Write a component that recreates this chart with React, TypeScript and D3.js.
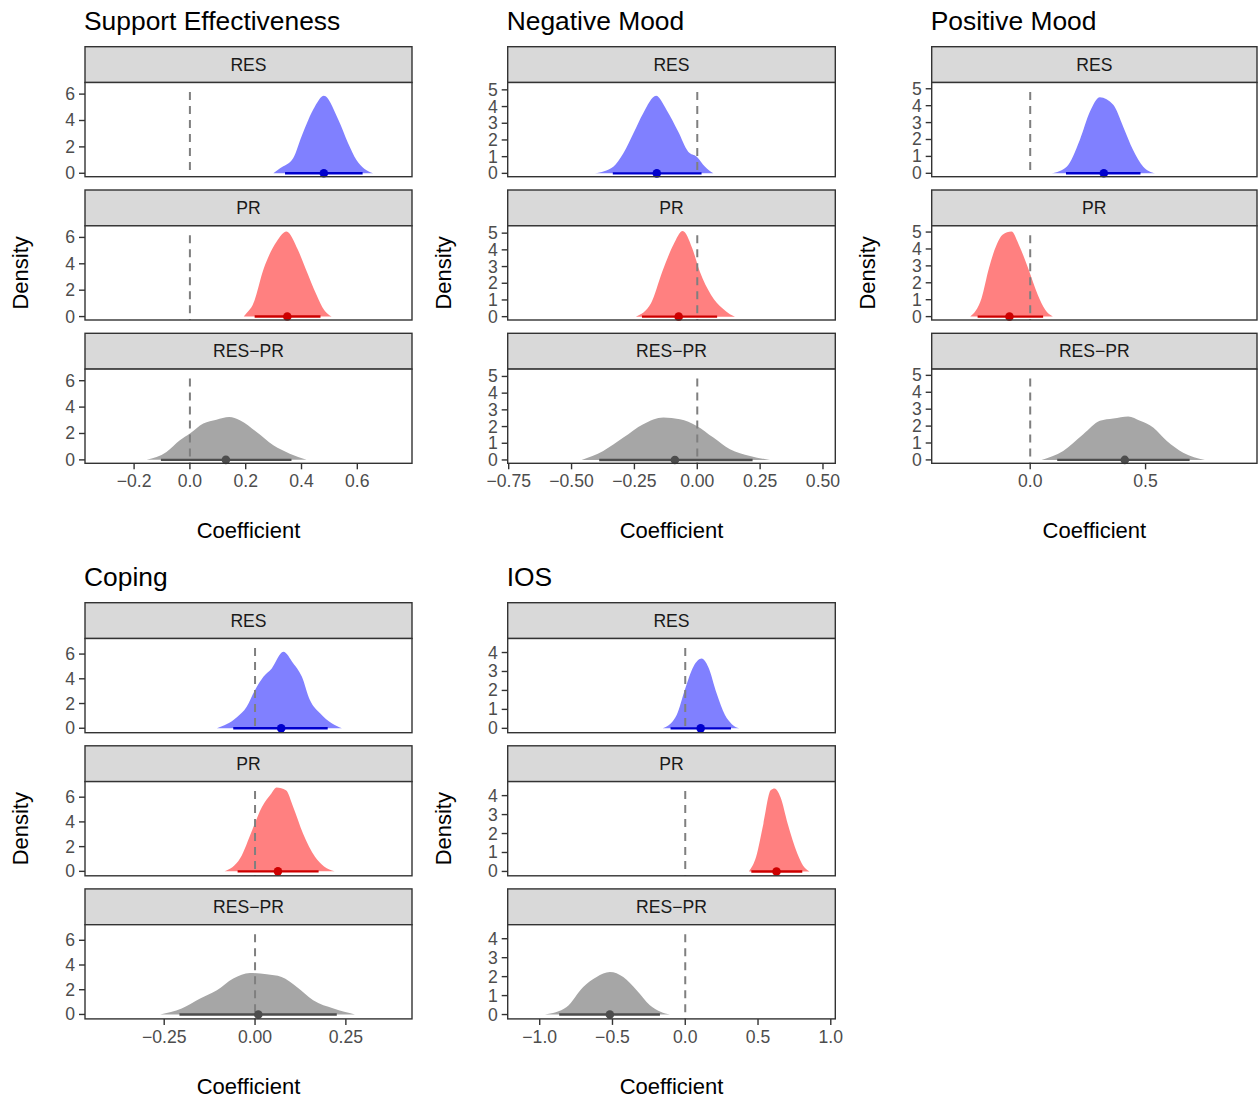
import React from "react";
import * as d3 from "d3";

// Posterior densities of the coefficient, as [coefficient, density] pairs
const seRES: [number, number][] = [[0.299,0],[0.323,0.38],[0.370,1.14],[0.400,2.78],[0.448,5.06],[0.480,5.87],[0.532,4.05],[0.567,2.28],[0.597,1.01],[0.625,0.35],[0.657,0]];
const sePR: [number, number][] = [[0.193,0],[0.205,0.3],[0.225,0.88],[0.265,3.67],[0.311,5.69],[0.346,6.45],[0.387,5.06],[0.414,3.67],[0.454,1.64],[0.481,0.5],[0.508,0]];
const seDiff: [number, number][] = [[-0.155,0],[-0.084,0.59],[-0.036,1.48],[0,1.99],[0.048,2.75],[0.095,3.05],[0.141,3.25],[0.179,3.0],[0.239,2.11],[0.299,1.1],[0.358,0.47],[0.418,0]];

const nmRES: [number, number][] = [[-0.407,0],[-0.334,0.4],[-0.294,1.2],[-0.254,2.4],[-0.215,3.6],[-0.164,4.64],[-0.122,3.8],[-0.076,2.5],[-0.036,1.3],[-0.002,1.0],[0.031,0.4],[0.064,0]];
const nmPR: [number, number][] = [[-0.244,0],[-0.184,0.8],[-0.139,2.7],[-0.095,4.3],[-0.058,5.13],[-0.020,4.1],[0.010,2.7],[0.055,1.3],[0.100,0.5],[0.130,0.15],[0.150,0]];
const nmDiff: [number, number][] = [[-0.460,0],[-0.374,0.54],[-0.294,1.34],[-0.215,2.14],[-0.135,2.54],[-0.069,2.44],[-0.002,2.04],[0.064,1.34],[0.130,0.64],[0.210,0.24],[0.289,0]];

const pmRES: [number, number][] = [[0.093,0],[0.158,0.39],[0.215,1.97],[0.259,3.65],[0.302,4.5],[0.360,4.05],[0.403,2.76],[0.446,1.38],[0.490,0.39],[0.541,0]];
const pmPR: [number, number][] = [[-0.260,0],[-0.211,1.08],[-0.179,2.86],[-0.146,4.24],[-0.120,4.84],[-0.081,5.03],[-0.049,4.24],[-0.009,2.86],[0.033,1.28],[0.065,0.4],[0.098,0]];
const pmDiff: [number, number][] = [[0.049,0],[0.143,0.53],[0.230,1.52],[0.302,2.31],[0.360,2.45],[0.425,2.57],[0.476,2.31],[0.533,1.92],[0.591,1.13],[0.663,0.43],[0.757,0]];

const copRES: [number, number][] = [[-0.105,0],[-0.050,0.89],[-0.023,1.74],[0,3.09],[0.023,4.16],[0.046,4.84],[0.078,6.18],[0.105,5.25],[0.129,4.16],[0.151,2.28],[0.179,1.21],[0.211,0.40],[0.239,0]];
const copPR: [number, number][] = [[-0.084,0],[-0.041,1.05],[-0.008,3.33],[0.019,5.21],[0.045,6.3],[0.059,6.78],[0.085,6.56],[0.105,5.21],[0.132,3.07],[0.165,1.18],[0.190,0.4],[0.219,0]];
const copDiff: [number, number][] = [[-0.261,0],[-0.202,0.48],[-0.151,1.29],[-0.105,1.96],[-0.060,2.91],[-0.014,3.36],[0.032,3.25],[0.073,3.03],[0.115,2.23],[0.160,1.15],[0.216,0.48],[0.275,0]];

const iosRES: [number, number][] = [[-0.155,0],[-0.100,0.25],[-0.059,0.70],[0,2.1],[0.055,3.24],[0.113,3.68],[0.158,3.24],[0.216,1.84],[0.273,0.70],[0.320,0.22],[0.371,0]];
const iosPR: [number, number][] = [[0.438,0],[0.487,0.77],[0.537,2.52],[0.587,4.28],[0.614,4.37],[0.654,3.93],[0.704,2.52],[0.770,0.95],[0.810,0.3],[0.854,0]];
const iosDiff: [number, number][] = [[-0.964,0],[-0.815,0.40],[-0.701,1.45],[-0.609,1.98],[-0.518,2.24],[-0.426,1.98],[-0.334,1.28],[-0.243,0.49],[-0.170,0.15],[-0.105,0]];

// 95% intervals: [lower, median, upper]
const seIntervals: [number, number, number][] = [[0.341,0.480,0.619],[0.232,0.349,0.468],[-0.104,0.129,0.364]];
const nmIntervals: [number, number, number][] = [[-0.336,-0.161,0.017],[-0.220,-0.074,0.079],[-0.390,-0.089,0.220]];
const pmIntervals: [number, number, number][] = [[0.155,0.319,0.478],[-0.228,-0.090,0.056],[0.117,0.410,0.691]];
const copIntervals: [number, number, number][] = [[-0.060,0.072,0.200],[-0.048,0.063,0.175],[-0.208,0.009,0.225]];
const iosIntervals: [number, number, number][] = [[-0.101,0.106,0.314],[0.454,0.627,0.804],[-0.866,-0.518,-0.174]];

const contrasts = ["RES", "PR", "RES\u2212PR"];
const outcomes = ["Support Effectiveness", "Negative Mood", "Positive Mood", "Coping", "IOS"];

// Axis tick values and labels
const seXTicks = [-0.2, 0, 0.2, 0.4, 0.6];
const nmXTicks = [-0.75, -0.5, -0.25, 0, 0.25, 0.5];
const pmXTicks = [0, 0.5];
const copXTicks = [-0.25, 0, 0.25];
const iosXTicks = [-1, -0.5, 0, 0.5, 1];
const seYTicks = [0, 2, 4, 6];
const nmYTicks = [0, 1, 2, 3, 4, 5];
const pmYTicks = [0, 1, 2, 3, 4, 5];
const copYTicks = [0, 2, 4, 6];
const iosYTicks = [0, 1, 2, 3, 4];

const slabFill = ["#8080FF", "#FF8080", "#A6A6A6"];
const pointColor = ["#0000CD", "#CD0000", "#4D4D4D"];

const FONT = "'Liberation Sans', Arial, Helvetica, sans-serif";
const minus = (s: string) => s.replace("-", "\u2212");

interface PanelSpec {
  title: string;
  densities: [number, number][][];
  intervals: [number, number, number][];
  xDomain: [number, number];
  yDomain: [number, number];
  xTicks: number[];
  yTicks: number[];
  xDigits: number;
  left: number;
  right: number;
  top: number;
  stride: number;
}

const panels: PanelSpec[] = [
  { title: outcomes[0], densities: [seRES, sePR, seDiff], intervals: seIntervals, xDomain: [-0.376, 0.796], yDomain: [-0.26, 6.88], xTicks: seXTicks, yTicks: seYTicks, xDigits: 1, left: 85, right: 412, top: 46.7, stride: 143.3 },
  { title: outcomes[1], densities: [nmRES, nmPR, nmDiff], intervals: nmIntervals, xDomain: [-0.754, 0.549], yDomain: [-0.2, 5.44], xTicks: nmXTicks, yTicks: nmYTicks, xDigits: 2, left: 507.7, right: 835.3, top: 46.7, stride: 143.3 },
  { title: outcomes[2], densities: [pmRES, pmPR, pmDiff], intervals: pmIntervals, xDomain: [-0.427, 0.983], yDomain: [-0.2, 5.37], xTicks: pmXTicks, yTicks: pmYTicks, xDigits: 1, left: 931.7, right: 1257, top: 46.7, stride: 143.3 },
  { title: outcomes[3], densities: [copRES, copPR, copDiff], intervals: copIntervals, xDomain: [-0.468, 0.432], yDomain: [-0.36, 7.26], xTicks: copXTicks, yTicks: copYTicks, xDigits: 2, left: 85, right: 412, top: 602.7, stride: 143.1 },
  { title: outcomes[4], densities: [iosRES, iosPR, iosDiff], intervals: iosIntervals, xDomain: [-1.22, 1.031], yDomain: [-0.23, 4.74], xTicks: iosXTicks, yTicks: iosYTicks, xDigits: 1, left: 507.7, right: 835.3, top: 602.7, stride: 143.1 },
];

const STRIP_H = 35.8;
const PANEL_H = 94.2;
const BORDER = "#333333";

function Panel({ spec }: { spec: PanelSpec }) {
  const x = d3.scaleLinear().domain(spec.xDomain).range([spec.left, spec.right]);
  const facets = contrasts.map((label, i) => {
    const stripTop = spec.top + i * spec.stride;
    const pTop = stripTop + STRIP_H;
    const pBottom = pTop + PANEL_H;
    const y = d3.scaleLinear().domain(spec.yDomain).range([pBottom, pTop]);
    const area = d3
      .area<[number, number]>()
      .x((d) => x(d[0]))
      .y0(y(0))
      .y1((d) => y(d[1]))
      .curve(d3.curveMonotoneX);
    const [lo, mid, hi] = spec.intervals[i];
    const w = spec.right - spec.left;
    return (
      <g key={label}>
        <rect x={spec.left} y={stripTop} width={w} height={STRIP_H} fill="#D9D9D9" stroke={BORDER} strokeWidth={1.4} />
        <text x={(spec.left + spec.right) / 2} y={stripTop + STRIP_H / 2 + 6} textAnchor="middle" fontSize={17.6} fill="#1A1A1A" fontFamily={FONT}>
          {label}
        </text>
        <rect x={spec.left} y={pTop} width={w} height={PANEL_H} fill="#FFFFFF" />
        <path d={area(spec.densities[i]) || ""} fill={slabFill[i]} />
        <line x1={x(0)} x2={x(0)} y1={pTop + 9.5} y2={pBottom} stroke="#7F7F7F" strokeWidth={2} strokeDasharray="8,6" />
        <line x1={x(lo)} x2={x(hi)} y1={y(0)} y2={y(0)} stroke={pointColor[i]} strokeWidth={2.4} />
        <circle cx={x(mid)} cy={y(0)} r={4.3} fill={pointColor[i]} />
        <rect x={spec.left} y={pTop} width={w} height={PANEL_H} fill="none" stroke={BORDER} strokeWidth={1.4} />
        {spec.yTicks.map((t) => (
          <g key={t}>
            <line x1={spec.left - 6} x2={spec.left} y1={y(t)} y2={y(t)} stroke={BORDER} strokeWidth={1.4} />
            <text x={spec.left - 10} y={y(t) + 6} textAnchor="end" fontSize={17.6} fill="#4D4D4D" fontFamily={FONT}>
              {t}
            </text>
          </g>
        ))}
        {i === 2 &&
          spec.xTicks.map((t) => (
            <g key={"x" + t}>
              <line x1={x(t)} x2={x(t)} y1={pBottom} y2={pBottom + 6} stroke={BORDER} strokeWidth={1.4} />
              <text x={x(t)} y={pBottom + 24} textAnchor="middle" fontSize={17.6} fill="#4D4D4D" fontFamily={FONT}>
                {minus(d3.format(`.${spec.xDigits}f`)(t))}
              </text>
            </g>
          ))}
      </g>
    );
  });
  const firstPanelTop = spec.top + STRIP_H;
  const lastBottom = spec.top + 2 * spec.stride + STRIP_H + PANEL_H;
  const midY = (firstPanelTop + lastBottom) / 2;
  return (
    <g>
      <text x={spec.left - 1} y={spec.top - 17} fontSize={26.4} fill="#000000" fontFamily={FONT}>
        {spec.title}
      </text>
      {facets}
      <text transform={`translate(${spec.left - 57},${midY}) rotate(-90)`} textAnchor="middle" fontSize={22} fill="#000000" fontFamily={FONT}>
        Density
      </text>
      <text x={(spec.left + spec.right) / 2} y={lastBottom + 75} textAnchor="middle" fontSize={22} fill="#000000" fontFamily={FONT}>
        Coefficient
      </text>
    </g>
  );
}

export default function App() {
  return (
    <svg width={1258} height={1099} style={{ position: "absolute", left: 0, top: 0, background: "#FFFFFF" }}>
      <rect width={1258} height={1099} fill="#FFFFFF" />
      {panels.map((p) => (
        <Panel key={p.title} spec={p} />
      ))}
    </svg>
  );
}
